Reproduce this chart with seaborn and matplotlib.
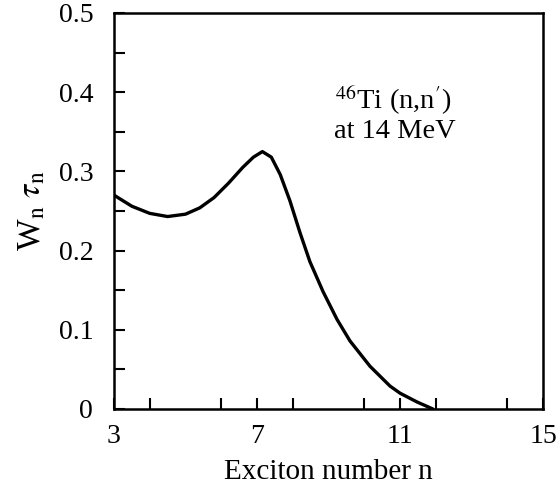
import matplotlib
matplotlib.use("Agg")
import matplotlib.pyplot as plt
import seaborn as sns
import pandas as pd
from matplotlib.ticker import MultipleLocator, FixedLocator

sns.set_theme(style="ticks")
plt.rcParams['font.family'] = ['Liberation Serif', 'DejaVu Serif']
plt.rcParams['mathtext.fontset'] = 'stix'

exciton_n = [3.0, 3.5, 4.0, 4.5, 5.0, 5.4, 5.8, 6.2, 6.6, 6.9, 7.15, 7.4, 7.65,
             7.92, 8.2, 8.48, 8.85, 9.24, 9.6, 10.16, 10.72, 11.0, 11.47, 11.92]
w_tau = [0.270, 0.256, 0.247, 0.243, 0.246, 0.254, 0.267, 0.285, 0.305, 0.318,
         0.325, 0.318, 0.296, 0.263, 0.223, 0.186, 0.148, 0.113, 0.086, 0.054,
         0.029, 0.020, 0.009, 0.0]
x_ticks = [3, 7, 11, 15]
y_ticks = [0, 0.1, 0.2, 0.3, 0.4, 0.5]
y_ticklabels = ["0", "0.1", "0.2", "0.3", "0.4", "0.5"]

df = pd.DataFrame({"n": exciton_n, "w": w_tau})

fig = plt.figure(figsize=(5.6, 4.99), dpi=100)
ax = fig.add_axes([114/560, 1-409/499, (543-114)/560, (409-13)/499])
sns.lineplot(data=df, x="n", y="w", ax=ax, color="black", linewidth=2.4)

ax.set_xlim(3, 15)
ax.set_ylim(0, 0.5)
ax.xaxis.set_major_locator(FixedLocator(x_ticks))
ax.xaxis.set_minor_locator(MultipleLocator(2))
ax.set_yticks(y_ticks)
ax.set_yticklabels(y_ticklabels)
ax.yaxis.set_minor_locator(MultipleLocator(0.05))
ax.tick_params(which="both", direction="in", color="black", width=1.5,
               labelsize=20, labelcolor="black")
ax.tick_params(which="major", length=8)
ax.tick_params(which="minor", length=8)
ax.tick_params(axis="x", pad=11)
ax.tick_params(axis="y", pad=15)
for s in ax.spines.values():
    s.set_color("black")
    s.set_linewidth(1.8)

ax.set_xlabel("Exciton number n", fontsize=21, color="black", labelpad=7)
ax.set_ylabel(r"W$_\mathrm{n}$ $\tau_\mathrm{n}$", fontsize=24, color="black", labelpad=8)

ax.text(10.8, 0.39, r"$^{46}$Ti (n,n$'$)", fontsize=20.5, ha="center", va="center", color="black")
ax.text(10.85, 0.351, "at 14 MeV", fontsize=20.5, ha="center", va="center", color="black")

fig.savefig("out.png", dpi=100)
